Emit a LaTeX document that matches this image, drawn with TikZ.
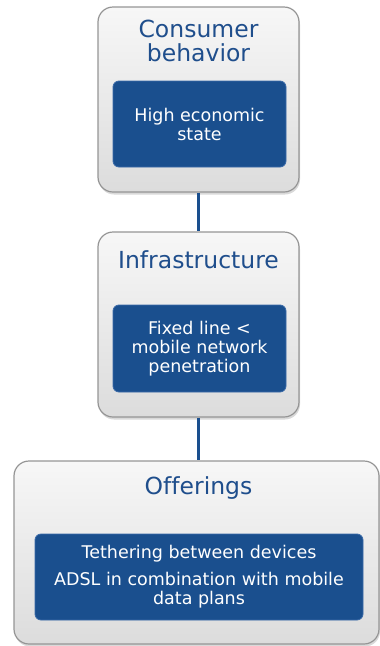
\documentclass[tikz,border=0pt]{standalone}
\usepackage{fontspec}
\setmainfont{DejaVu Sans}[Ligatures=NoCommon]
\usepackage{xcolor}
\usepackage{tikz}
\usetikzlibrary{shadows,calc}
\definecolor{bluemain}{HTML}{1A4F8E}
\definecolor{blueedge}{HTML}{3A6AA8}
\definecolor{bluetitle}{HTML}{1F4E8C}
\definecolor{grayedge}{HTML}{959595}
\definecolor{graytop}{HTML}{F7F7F7}
\definecolor{graybot}{HTML}{DCDCDC}
\tikzset{
  every node/.append style={font=\rmfamily},
  panel/.style={draw=grayedge,line width=1.2pt,rounded corners=15pt,
    top color=graytop,bottom color=graybot,
    drop shadow={opacity=.3,shadow xshift=1pt,shadow yshift=-2.5pt}},
  fact/.style={draw=blueedge,line width=.8pt,fill=bluemain,rounded corners=6pt,
    text=white,align=center,font=\fontsize{17.5}{19}\selectfont},
  heading/.style={text=bluetitle,align=center,font=\fontsize{23.5}{24.5}\selectfont},
  link/.style={bluemain,line width=3pt}
}
\begin{document}
\begin{tikzpicture}[x=1pt,y=-1pt]
  \useasboundingbox (0,0) rectangle (380,646);
  % three levels, each a gray panel with one blue fact inside
  \node[panel,minimum width=201pt,minimum height=185pt] (consumer) at (198.5,99.5) {};
  \node[panel,minimum width=201pt,minimum height=185pt] (infra) at (198.5,324.5) {};
  \node[panel,minimum width=365pt,minimum height=183pt] (offer) at (196.5,552.5) {};
  \draw[link] (consumer.south) -- (infra.north);
  \draw[link] (infra.south) -- (infra.south |- offer.north);
  \node[heading] (consumertitle) at (198.5,41) {Consumer\\behavior};
  \node[heading] (infratitle) at (198.5,260) {Infrastructure};
  \node[heading] (offertitle) at (198.5,488) {Offerings};
  \node[fact,minimum width=173pt,minimum height=86pt] (economic) at (199.5,124)
    {High economic\\state};
  \node[fact,minimum width=173pt,minimum height=87pt] (penetration) at (199.5,348.5)
    {Fixed line <\\mobile network\\penetration};
  \node[fact,minimum width=328pt,minimum height=86pt] (tethering) at (199,577)
    {Tethering between devices\\[8pt]ADSL in combination with mobile\\data plans};
\end{tikzpicture}
\end{document}
